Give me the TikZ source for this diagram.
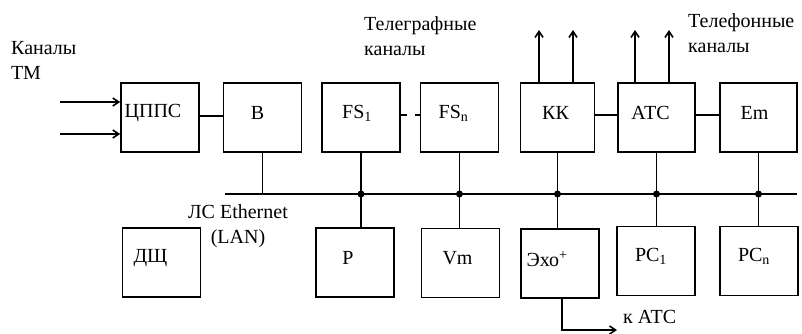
\documentclass[tikz,border=0pt]{standalone}
\usepackage{fontspec}
\setmainfont{Liberation Serif}
\usetikzlibrary{arrows.meta}

\tikzset{
  blk/.style 2 args={draw, line width=1.6pt, minimum width=78pt, minimum height=69pt, inner sep=0pt,
    label={[xshift=#2, yshift=4.5pt]center:#1}},
  lbl/.style={align=left, anchor=base west, inner sep=0pt},
  wire/.style={line width=1.6pt},
  tip/.style={wire, -{Straight Barb[length=6pt,width=8pt]}}
}

\begin{document}
\begin{tikzpicture}[x=1pt,y=-1pt, font=\fontsize{20}{25}\selectfont]
  \useasboundingbox (0,0) rectangle (802,333);
  % top row
  \node[blk={ЦППС}{-7pt}] (cpps) at (160,117.5) {};
  \node[blk={В}{-5pt}] (b) at (262.5,117.5) {};
  \node[blk={FS\textsubscript{1}}{-4pt}] (fs1) at (361,117.5) {};
  \node[blk={FS\textsubscript{n}}{-6pt}] (fsn) at (459.5,117.5) {};
  \node[blk={КК}{-2pt}, minimum width=74pt] (kk) at (557.5,117.5) {};
  \node[blk={АТС}{-6pt}, minimum width=77pt] (atc) at (656.5,117.5) {};
  \node[blk={Em}{-4pt}, minimum width=77pt] (em) at (758.5,117.5) {};
  % bottom row
  \node[blk={ДЩ}{-11pt}] (dsh) at (161.5,262.5) {};
  \node[blk={P}{-7pt}] (p) at (355,262.5) {};
  \node[blk={Vm}{-3pt}] (vm) at (460.5,263) {};
  \node[blk={Эхо\textsuperscript{+}}{-13pt}] (echo) at (560,263.5) {};
  \node[blk={PC\textsubscript{1}}{-5pt}] (pc1) at (656,261) {};
  \node[blk={PC\textsubscript{n}}{-5pt}] (pcn) at (759,261) {};
  % texts
  \node[lbl] (tm) at (11,79) {Каналы\\ТМ};
  \node[lbl] (tg) at (364,55) {Телеграфные\\каналы};
  \node[lbl] (tf) at (688,52) {Телефонные\\каналы};
  \node[align=center, anchor=base, inner sep=0pt] (lan) at (238,243) {ЛС Ethernet\\(LAN)};
  \node[anchor=base west, inner sep=0pt] (katc) at (623,323) {к АТС};
  % inputs
  \coordinate (in1) at (60,102);
  \coordinate (in2) at (60,134);
  \draw[tip] (in1) -- (in1 -| cpps.west);
  \draw[tip] (in2) -- (in2 -| cpps.west);
  % outputs
  \coordinate (kk1) at (539,30);
  \coordinate (kk2) at (573,30);
  \coordinate (atc1) at (635,30);
  \coordinate (atc2) at (669,30);
  \draw[tip] (kk1 |- kk.north) -- (kk1);
  \draw[tip] (kk2 |- kk.north) -- (kk2);
  \draw[tip] (atc1 |- atc.north) -- (atc1);
  \draw[tip] (atc2 |- atc.north) -- (atc2);
  % links
  \draw[wire] (cpps.east |- 0,116) -- (b.west |- 0,116);
  \draw[wire, dash pattern=on 6pt off 8pt] (fs1.east |- 0,115) -- (fsn.west |- 0,115);
  \draw[wire] (kk.east |- 0,115) -- (atc.west |- 0,115);
  \draw[wire] (atc.east |- 0,115) -- (em.west |- 0,115);
  % bus
  \coordinate (busL) at (225,194);
  \coordinate (busR) at (797,194);
  \draw[wire] (busL) -- (busR);
  \draw[wire] (b.south) -- (b.south |- busL);
  \foreach \u/\d in {fs1/p, fsn/vm, kk/echo, atc/pc1, em/pcn} {
    \draw[wire] (\u.south) -- (\u.south |- \d.north);
    \fill (\u.south |- busL) circle (3.5pt);
  }
  % to ATS
  \coordinate (toats) at (617,330);
  \draw[tip] ([xshift=2pt]echo.south) |- (toats);
\end{tikzpicture}
\end{document}
